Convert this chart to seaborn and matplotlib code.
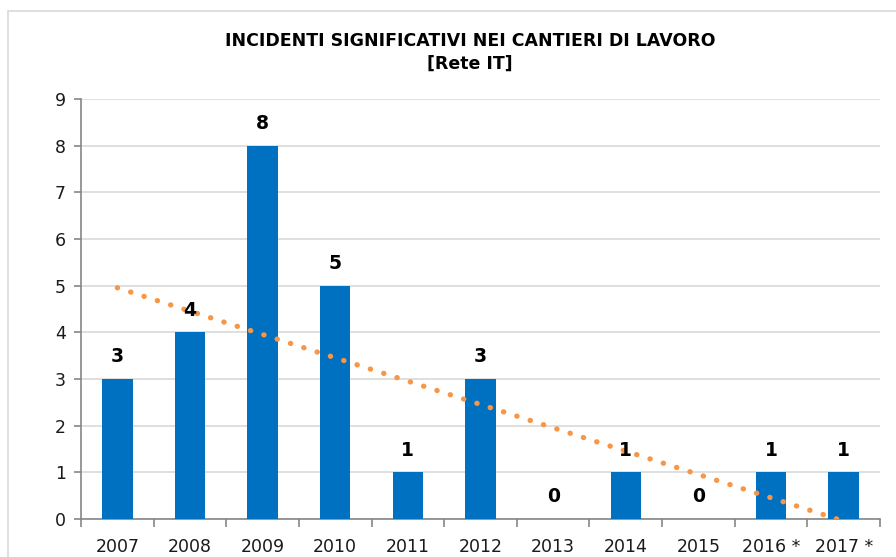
import numpy as np
import pandas as pd
import matplotlib
matplotlib.use("Agg")
import matplotlib.pyplot as plt
import seaborn as sns
from matplotlib.patches import Rectangle
from matplotlib.ticker import FixedLocator

years = ["2007", "2008", "2009", "2010", "2011", "2012", "2013", "2014", "2015", "2016 *", "2017 *"]
incidents = [3, 4, 8, 5, 1, 3, 0, 1, 0, 1, 1]
title_lines = ["INCIDENTI SIGNIFICATIVI NEI CANTIERI DI LAVORO", "[Rete IT]"]

sns.set_theme(style="white")
plt.rcParams['font.family'] = ['DejaVu Sans']
plt.rcParams['text.color'] = 'black'

df = pd.DataFrame({"year": years, "n": incidents})

fig = plt.figure(figsize=(8.96, 5.57), dpi=100)
ax = fig.add_axes([81/896, 1-519/557, (880-81)/896, (519-99)/557])

# outer chart border
fig.patches.append(Rectangle((8/896, -0.1), 1.2, 1-11/557+0.1, transform=fig.transFigure,
                             fill=False, edgecolor="#d9d9d9", linewidth=1.2))

sns.barplot(data=df, x="year", y="n", color="#0070C0", width=0.42, ax=ax,
            saturation=1, linewidth=0, zorder=3)

# linear trend line
xs = np.arange(len(incidents))
k, b = np.polyfit(xs, incidents, 1)
ax.plot(xs, k*xs + b, linestyle=(0, (0.05, 2.6)), dash_capstyle="round", color="#F79646",
        linewidth=3.8, zorder=4)

for i, v in enumerate(incidents):
    ax.annotate(str(v), (i, v), xytext=(0, 16), textcoords="offset points",
                ha="center", va="center", fontsize=13.5, fontweight="bold", color="black", zorder=5)

ax.set_xlim(-0.5, len(years)-0.5)
ax.set_ylim(0, 9)
ax.set_yticks(range(0, 10))
ax.set_xlabel("")
ax.set_ylabel("")
ax.yaxis.grid(True, color="#d9d9d9", linewidth=1.2, zorder=0)
ax.set_axisbelow(True)
for s in ["top", "right"]:
    ax.spines[s].set_visible(False)
for s in ["left", "bottom"]:
    ax.spines[s].set_color("#868686")
    ax.spines[s].set_linewidth(1.2)

ax.tick_params(axis="y", which="major", left=True, length=5, width=1.2, color="#868686",
               labelsize=12.5, pad=6, labelcolor="#1a1a1a")
ax.tick_params(axis="x", which="major", bottom=False, labelsize=12.5, pad=8, labelcolor="#1a1a1a")
ax.xaxis.set_minor_locator(FixedLocator(np.arange(-0.5, len(years), 1.0)))
ax.tick_params(axis="x", which="minor", bottom=True, length=6, width=1.2, color="#868686")

fig.text(470/896, 1-41/557, title_lines[0], ha="center", va="center", fontsize=12.5,
         fontweight="bold", color="black")
fig.text(470/896, 1-64/557, title_lines[1], ha="center", va="center", fontsize=12.5,
         fontweight="bold", color="black")

fig.savefig("out.png", dpi=100)
